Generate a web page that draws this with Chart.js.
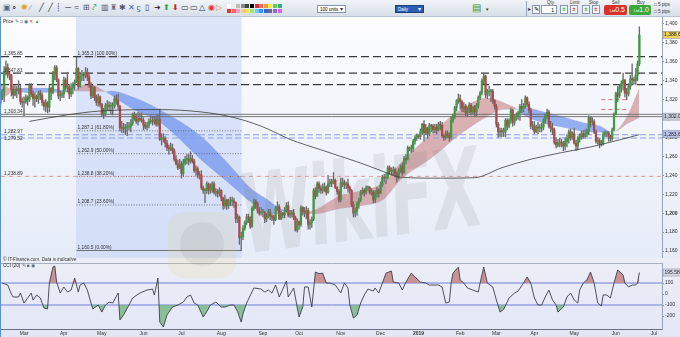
<!DOCTYPE html>
<html>
<head>
<meta charset="utf-8">
<script src="https://cdn.jsdelivr.net/npm/chart.js@4.4.1/dist/chart.umd.min.js"></script>
<style>
body{margin:0;width:680px;height:337px;overflow:hidden;background:#fff;position:relative;font-family:'Liberation Sans',Arial,sans-serif}
#tb{position:absolute;left:0;top:0;width:680px;height:17px;background:linear-gradient(#f1f4f8,#d8dfe9);border-bottom:1px solid #b7c2d2;box-sizing:border-box}
#tb span{position:absolute}
.ico{top:3px;font-size:8px;line-height:9px}
.sel{top:5px;height:8px;background:#fff;border:1px solid #8896ab;font-size:4.5px;line-height:8px;padding-left:2px;box-sizing:border-box}
.lab{top:0px;font-size:4.5px;color:#333}
.btn{top:5px;height:10px;border-radius:2px;color:#fff;font-size:7px;line-height:10px;text-align:right;padding-right:2px;box-sizing:border-box}
.sq{top:5px;width:8px;height:9px;border:1px solid #8a97aa;background:#f4f6f9;box-sizing:border-box;font-size:6px;line-height:7px;text-align:center}
#pw{position:absolute;left:0;top:17px;width:680px;height:241px;background:linear-gradient(#fdfdfe,#f2f5fb 45%,#e6ecf8);border-left:1px solid #5d8fd3;box-sizing:border-box}
#ow{position:absolute;left:0;top:258px;width:680px;height:79px;background:linear-gradient(#eceef7,#e3e7f5);border-left:1px solid #5d8fd3;box-sizing:border-box}
canvas{position:absolute;left:0;top:0}
.txt{position:absolute;font-size:4.6px;color:#333;white-space:nowrap}
#wm{position:absolute;left:238px;top:152px;font:bold 110px 'DejaVu Sans';color:rgba(110,110,110,0.12);transform:scaleX(0.58) rotate(-4deg);transform-origin:0 0;pointer-events:none;letter-spacing:-3px}
#logo{position:absolute;left:168px;top:212px;width:68px;height:66px;border-radius:16px;background:rgba(232,205,120,0.16);pointer-events:none}
#logo div{position:absolute;left:12px;top:10px;width:44px;height:44px;border-radius:50%;background:rgba(120,120,120,0.11)}
</style>
</head>
<body>
<div id="tb"></div>
<div id="pw"><canvas id="priceChart" width="680" height="241"></canvas></div>
<div id="ow"><canvas id="cciChart" width="680" height="79"></canvas></div>
<div class="txt" style="left:3px;top:19px">Price <span style="color:#567">&#9998; &#9633; &#9673;</span> <span style="color:#c33">&#10005;</span> <span style="color:#3a3">&#9650;</span></div>
<div class="txt" style="left:3px;top:257px;font-style:italic">&copy; IT-Finance.com. Data is indicative</div>
<div class="txt" style="left:3px;top:263px">CCI (20) <span style="color:#567">&#9998; &#9632; &#9673;</span></div>
<div id="logo"><div></div></div>
<div id="wm">WikiFX</div>

<script>
// daily candles, 12 Feb 2018 .. 20 Jun 2019 (index 0 = first candle)
const firstOpen = 1316;
const closes = [
  1322,1329,1350,1354,1347,1346,1331,1325,1331,1330,1332,1318,1317,
  1318,1322,1320,1335,1326,1321,1324,1321,1327,1325,1317,1313,1317,1312,1332,1328,1347,1354,1341,1324,1325,1326,
  1341,1333,1333,1326,1332,1336,1339,1353,1334,1345,1347,1346,1349,1344,1336,1324,1333,1322,1317,1323,1315,
  1305,1305,1314,1314,1313,1313,1313,1321,1319,1313,1290,1291,1289,1291,1291,1291,1295,1304,1301,1297,1300,1299,1298,
  1293,1291,1293,1297,1298,1297,1299,1294,1299,1278,1279,1279,1274,1269,1268,1269,1266,1257,1252,1248,1252,
  1242,1253,1257,1257,1255,1258,1255,1245,1247,1241,1240,1227,1224,1224,1231,1224,1225,1231,1222,1223,1221,1224,
  1216,1208,1214,1208,1212,1213,1213,1211,1194,1196,1174,1175,1184,1190,1196,1195,1186,1205,1212,1210,1203,1200,1201,
  1201,1194,1197,1201,1197,1196,1193,1205,1207,1194,1200,1198,1203,1208,1198,1200,1200,1195,1182,1191,
  1188,1206,1202,1200,1203,1188,1190,1194,1224,1218,1231,1226,1224,1227,1227,1222,1231,1233,1232,1235,1227,1223,1214,
  1232,1232,1230,1231,1227,1224,1209,1200,1202,1210,1214,1222,1224,1222,1227,1227,1222,1222,1214,1221,1224,1221,
  1230,1238,1237,1238,1248,1244,1244,1246,1242,1238,1245,1249,1243,1258,1257,1269,1268,1268,1276,1280,1282,
  1281,1286,1294,1285,1290,1284,1293,1292,1288,1291,1288,1294,1293,1282,1280,1284,1282,1280,1298,1303,1312,1319,1321,
  1318,1311,1313,1306,1309,1314,1307,1312,1307,1314,1322,1327,1340,1345,1325,1328,1329,1329,1319,1313,
  1294,1286,1287,1286,1286,1298,1292,1298,1309,1296,1302,1302,1306,1313,1311,1313,1322,1315,1309,1292,1292,
  1286,1291,1290,1290,1291,1298,1303,1307,1292,1290,1288,1275,1272,1274,1275,1272,1271,1276,1279,1286,1280,1284,
  1274,1271,1279,1282,1284,1281,1284,1286,1301,1296,1297,1286,1276,1277,1273,1274,1283,1285,1285,1281,1279,1288,1305,
  1327,1324,1333,1337,1341,1327,1326,1334,1342,1341,1340,1346,1358,1388.6
];
const highs = [
  1326,1331,1355,1361,1358,1350,1347,1335,1335,1334,1340,1335,1322,
  1323,1325,1324,1337,1337,1329,1327,1325,1329,1330,1327,1319,1320,1318,1335,1333,1350,1356,1356,1342,1329,1328,
  1344,1343,1349,1336,1337,1338,1341,1365,1354,1348,1351,1349,1354,1353,1348,1338,1335,1334,1325,1326,1324,
  1316,1311,1316,1319,1318,1317,1317,1324,1325,1326,1314,1297,1295,1294,1296,1296,1299,1306,1307,1305,1307,1306,1306,
  1301,1296,1296,1300,1303,1302,1302,1303,1304,1310,1284,1284,1281,1277,1272,1274,1273,1268,1261,1256,1257,
  1255,1257,1260,1262,1262,1265,1261,1257,1250,1249,1244,1245,1229,1226,1233,1232,1231,1233,1233,1226,1225,1227,
  1225,1217,1219,1215,1215,1217,1217,1216,1212,1199,1197,1180,1187,1192,1199,1199,1196,1207,1215,1214,1212,1206,1206,
  1204,1202,1200,1204,1204,1199,1198,1207,1212,1209,1202,1201,1206,1211,1212,1203,1203,1204,1197,1194,
  1192,1208,1207,1206,1207,1205,1193,1196,1226,1227,1233,1233,1229,1231,1232,1229,1240,1236,1236,1243,1236,1228,1225,
  1237,1237,1235,1233,1236,1229,1225,1212,1206,1212,1216,1224,1227,1226,1229,1229,1228,1226,1224,1224,1227,1226,
  1233,1240,1241,1242,1250,1250,1248,1249,1248,1244,1247,1251,1253,1260,1262,1271,1270,1272,1278,1282,1284,
  1283,1289,1295,1298,1294,1291,1295,1294,1294,1294,1294,1296,1297,1296,1283,1287,1287,1285,1302,1305,1313,1320,1326,
  1325,1319,1317,1315,1312,1317,1316,1313,1314,1316,1324,1329,1342,1347,1346,1331,1334,1331,1331,1320,
  1315,1296,1290,1290,1290,1300,1300,1300,1311,1310,1304,1306,1308,1315,1320,1316,1324,1323,1318,1311,1297,
  1297,1293,1296,1294,1295,1300,1305,1310,1309,1297,1295,1290,1280,1278,1279,1278,1276,1280,1283,1288,1289,1286,
  1290,1277,1281,1284,1287,1287,1288,1289,1303,1302,1301,1299,1288,1280,1279,1277,1286,1287,1286,1286,1283,1290,1306,
  1328,1334,1336,1340,1348,1341,1332,1337,1346,1358,1344,1353,1361,1397
];
const lows = [
  1314,1320,1318,1346,1343,1341,1324,1321,1324,1322,1326,1315,1312,
  1303,1316,1314,1318,1323,1314,1312,1318,1316,1320,1314,1309,1307,1306,1307,1320,1326,1341,1339,1321,1319,1322,
  1322,1330,1328,1321,1323,1326,1330,1338,1331,1333,1340,1340,1343,1340,1333,1321,1322,1319,1314,1313,1312,
  1302,1300,1303,1309,1308,1305,1304,1311,1315,1310,1287,1285,1285,1283,1282,1288,1286,1293,1298,1295,1293,1297,1296,
  1288,1289,1288,1290,1295,1293,1294,1292,1292,1277,1272,1275,1270,1266,1262,1266,1263,1255,1251,1246,1247,
  1237,1239,1251,1252,1251,1253,1253,1243,1240,1237,1236,1225,1221,1211,1221,1220,1221,1222,1220,1218,1217,1218,
  1213,1204,1205,1204,1205,1208,1208,1206,1190,1190,1167,1160,1172,1182,1188,1190,1184,1185,1203,1205,1200,1198,1198,
  1196,1190,1191,1195,1193,1192,1188,1192,1203,1193,1193,1195,1195,1201,1196,1195,1196,1193,1181,1180,
  1183,1186,1198,1196,1194,1183,1183,1185,1192,1215,1218,1222,1221,1221,1223,1219,1221,1228,1228,1231,1226,1220,1212,
  1212,1228,1226,1226,1222,1221,1207,1196,1196,1198,1205,1212,1220,1218,1220,1224,1220,1219,1211,1211,1217,1217,
  1222,1228,1233,1231,1236,1241,1240,1240,1238,1233,1236,1243,1240,1242,1252,1256,1266,1264,1265,1273,1277,
  1279,1278,1283,1276,1283,1279,1282,1286,1285,1285,1284,1287,1288,1280,1277,1278,1280,1276,1278,1296,1300,1308,1316,
  1310,1307,1307,1303,1302,1306,1304,1305,1302,1303,1311,1320,1325,1337,1322,1321,1324,1318,1316,1310,
  1291,1280,1281,1281,1281,1281,1288,1290,1295,1292,1293,1298,1299,1298,1306,1307,1311,1312,1306,1289,1288,
  1284,1285,1284,1286,1286,1288,1295,1300,1290,1286,1283,1273,1269,1270,1270,1270,1266,1267,1270,1274,1277,1278,
  1273,1266,1267,1275,1278,1279,1279,1281,1283,1291,1293,1284,1274,1273,1269,1271,1272,1281,1281,1276,1276,1277,1287,
  1304,1318,1322,1328,1330,1323,1320,1324,1331,1336,1336,1336,1340,1356
];

// month ticks (candle index of first trading day)
const monthStart = [13,35,56,79,100,122,145,165,188,210,231,254,274,295,317,340,361];
const monthLabels = ['Mar','Apr','May','Jun','Jul','Aug','Sep','Oct','Nov','Dec','2019','Feb','Mar','Apr','May','Jun','Jul'];
const priceTicks = [1160,1180,1200,1220,1240,1260,1280,1300,1320,1340,1360,1380,1400];
const cciTicks = [-200,-100,0,100];

// moving-average ribbon and 200 SMA
const ribIdx  = [0,4,7,18,28,40,48,58,61,73,88,111,129,138,148,153,157,166,173,188,197,212,221,238,256,269,278,286,289,302,311,322,332,337,339,346,353];
const ribFast = [1336,1333,1330,1327,1327.5,1329,1337,1328.5,1325,1310,1296,1256,1227,1212,1200,1199,1203,1201,1203,1219,1223,1233,1253,1284,1312,1322,1317,1309.5,1304,1294,1290.5,1286.3,1285.2,1285.5,1286,1302,1332.6];
const ribSlow = [1320,1325,1330,1332.5,1332,1329,1329,1328.5,1329.5,1323,1309.5,1281,1246,1227,1214,1207,1203,1201,1199,1205,1207,1215,1235,1258,1286,1302,1309.5,1309.5,1311.6,1306.3,1302,1295.8,1291.6,1286.3,1286,1294,1301];
const smaIdx = [16,37,55,88,111,127,144,160,177,188,199,213,221,243,262,277,293,310,326,343,353];
const smaVal = [1297,1304,1308,1309.5,1307,1302,1292,1278,1267,1260,1253,1243,1238,1237,1237.5,1248,1257,1264,1270,1278,1283];

// levels
const fibFrom = 42, fibTo = 133;
const fibLevels = [1365.3,1287.1,1262.9,1238.8,1208.7,1160.5];
const fibLabels = ['1,365.3 (100.00%)','1,287.1 (61.80%)','1,262.9 (50.00%)','1,238.8 (38.20%)','1,208.7 (23.60%)','1,160.5 (0.00%)'];
const blackLevels = [1365.6,1348,1335.8];
const greyLevels = [1304.5,1302.06];
const blueLevels = [1282.97,1279.52];
const redLevel = 1238.89;
const shortRedLevels = [1320,1309.5];
const shortRedFrom = 332, shortRedTo = 346;
const leftLevels = [1365.6,1348,1304.5,1282.97,1279.52,1238.89];
const leftLabels = ['1,365.85','1,347.81','1,303.34','1,282.97','1,279.52','1,238.89'];
const axisTags = [[1388.6,'1,388.60','#f1d25a'],[1302.06,'1,302.06','#c6ccd8'],[1283.67,'1,283.67','#b7c2ee']];

// CCI(20)
const cciIdx = [1,4,6,7,10,11,13,15,17,18,20,22,24,26,27,29,30,31,33,35,37,39,41,43,44,46,48,50,51,54,56,58,60,62,65,66,68,71,73,77,81,84,85,87,88,90,92,95,98,101,103,105,107,109,112,114,116,119,122,124,127,129,131,133,134,136,140,144,146,148,150,152,154,156,158,159,162,164,165,167,168,170,172,174,176,178,180,182,185,188,190,192,193,195,197,199,201,203,206,207,209,211,213,216,217,220,222,224,227,229,232,235,237,242,244,246,248,249,250,253,254,256,258,261,264,265,267,269,272,274,276,278,281,284,286,289,291,293,295,297,299,301,303,305,307,308,311,313,315,317,319,320,322,324,326,328,330,332,333,335,337,339,341,344,345,347,349,351,352,353];
const cciVal = [100,82,0,-27,-27,9,-82,-36,9,-55,-9,-36,-127,-136,100,245,255,109,9,64,18,36,145,18,82,100,36,-82,-136,-100,-164,-100,-73,-82,9,-236,-190,-100,-36,9,36,45,-9,145,-255,-300,-190,-118,-100,-73,-27,-9,-82,-100,-209,-160,-100,-73,-118,-118,-100,-100,-160,-255,-180,-82,55,45,18,36,9,82,-27,45,118,-27,55,-127,-209,-118,64,64,-118,200,185,190,100,100,82,10,100,55,-100,-218,-190,-82,-9,45,27,55,9,100,190,209,109,100,36,109,190,155,109,100,82,82,64,-82,-73,100,190,245,127,100,55,36,18,100,245,100,64,-55,-164,-140,-36,9,27,100,155,100,-36,-100,-100,-27,36,-55,-100,-164,-118,-27,9,-55,-82,36,100,127,200,100,-82,-109,-9,-9,-36,100,218,173,100,64,82,82,100,195.58];
const cciLast = 195.58;

const xMin = 0.28, xMax = 365.5;
const FONT = 'Liberation Sans';
Chart.defaults.font.family = FONT;

// ---- toolbar ----
const tb = document.getElementById('tb');
function put(cls, x, html, style) {
  const s = document.createElement('span');
  s.className = cls; s.style.left = x + 'px';
  if (style) s.style.cssText += style;
  s.innerHTML = html; tb.appendChild(s);
}
const icons = ['&#9635;','&#8981;','&#10042;','&#8260;','&#9585;','&#9585;','&#9482;','&#9472;','&#8776;','&#8862;','&#10532;','&#9637;','&#9820;','&#10033;','&#10005;','&#987;','&#9647;','&#10140;','&#11014;','&#11015;','&#9645;','&#9645;','&#9651;'];
const iconCol = ['#667','#334','#e0a020','#889','#334','#334','#334','#334','#556','#556','#3a6','#556','#667','#556','#36c','#36c','#334','#334','#2a2','#c22','#334','#334','#334'];
icons.forEach((c, k) => put('ico', 3 + k * 8.9, c, 'color:' + iconCol[k]));
put('ico', 208, '&#9673;', 'color:#d33');
put('ico', 216, '&#9655;', 'color:#e58a1f');
const pal = ['#fff','#eee','#bbb','#888','#444','#000','#c33','#e66','#e93','#ee4','#6c4','#3a8'];
const pal2 = ['#e33','#f66','#f9c','#fc6','#ffe066','#9e6','#6cf','#39f','#36c','#669','#96c','#c6f'];
pal.forEach((c, k) => put('', 227 + k * 4.6, '', 'top:4px;width:4px;height:4px;background:' + c));
pal2.forEach((c, k) => put('', 227 + k * 4.6, '', 'top:9px;width:4px;height:4px;background:' + c));
put('sel', 317, '100 units', 'width:29px');
put('', 340, '&#9662;', 'top:5px;font-size:6px;color:#334');
put('sel', 395, 'Daily', 'width:29px;background:#2c5eb3;color:#fff;border-color:#1d3f7a');
put('', 418, '&#9662;', 'top:5px;font-size:6px;color:#fff');
put('ico', 472, '&#9636;', 'color:#4a9a3a;font-size:10px');
put('', 486, '&#9662;', 'top:6px;font-size:5px;color:#334');
put('', 526, '', 'top:1px;width:1px;height:15px;background:#9aa6b8');
put('', 528, '&#9656;', 'top:5px;font-size:6px;color:#334');
put('sq', 532, '&#9998;');
put('lab', 547, 'Qty');
put('sel', 541, '1', 'width:16px;text-align:right;padding-right:2px;height:9px;font-size:5px');
put('lab', 570, 'Limit');
put('sq', 560, '<b style="color:#2a2">&#177;</b>');
put('sq', 570, '<b style="color:#c22">&#177;</b>');
put('lab', 589, 'Stop');
put('sq', 582, '<b style="color:#2a2">&#177;</b>');
put('sq', 592, '<b style="color:#c22">&#177;</b>');
put('lab', 612, 'Sell');
put('btn', 604, '<small style="font-size:4px">Ltd</small>0.5', 'width:23px;background:#d9312b');
put('lab', 637, 'Buy');
put('btn', 629, '<small style="font-size:4px">Ltd</small>1.0', 'width:22px;background:#3aa83a');
put('', 654, '&#9633; 5 pips', 'top:2px;font-size:4.5px;color:#333');
put('', 654, '&#9633; 5 pips', 'top:9px;font-size:4.5px;color:#333');

// ---- price chart ----
const opens = closes.map((c, i) => i === 0 ? firstOpen : closes[i - 1]);
const up = i => closes[i] >= opens[i];

function hline(y, x0, x1, color, dash, width, order) {
  return {type: 'line', data: [{x: x0, y: y}, {x: x1, y: y}], borderColor: color,
    borderDash: dash, borderWidth: width, pointRadius: 0, fill: false, order: order};
}

const priceSets = [
  {type: 'line', data: [{x: fibFrom - 0.3, y: 1407.4}, {x: fibTo + 0.3, y: 1407.4}],
    fill: 'start', backgroundColor: 'rgba(200,214,246,0.6)', borderWidth: 0, pointRadius: 0, order: 100},
  {type: 'line', data: ribIdx.map((x, k) => ({x: x, y: ribFast[k]})), borderWidth: 0, pointRadius: 0,
    cubicInterpolationMode: 'monotone', order: 60,
    fill: {target: '+1', above: 'rgba(196,118,118,0.55)', below: 'rgba(92,132,236,0.62)'}},
  {type: 'line', data: ribIdx.map((x, k) => ({x: x, y: ribSlow[k]})), borderWidth: 0, pointRadius: 0,
    cubicInterpolationMode: 'monotone', fill: false, order: 60},
  ...fibLevels.map((v, k) => hline(v, fibFrom, fibTo, '#555', k === fibLevels.length - 1 ? [] : [1, 1.6], 0.8, 40)),
  ...blackLevels.map(v => hline(v, xMin, xMax, '#3a3a3a', [8, 4], 1.2, 30)),
  ...greyLevels.map(v => hline(v, xMin, xMax, '#6a6a6a', [], 0.9, 30)),
  ...blueLevels.map(v => hline(v, xMin, xMax, '#8d9be6', [6, 3], 1.1, 30)),
  hline(redLevel, xMin, xMax, '#ec9a9a', [4, 4], 1, 30),
  ...shortRedLevels.map(v => hline(v, shortRedFrom, shortRedTo, '#d97070', [4, 3], 1, 30)),
  {type: 'bar', data: closes.map((c, i) => ({x: i, y: [Math.min(lows[i], opens[i], c), Math.max(highs[i], opens[i], c)]})),
    backgroundColor: '#6b6b6b', grouped: false, maxBarThickness: 0.7, categoryPercentage: 1, barPercentage: 1, order: 11},
  {type: 'bar', data: closes.map((c, i) => ({x: i, y: [opens[i], c]})),
    backgroundColor: ctx => up(ctx.dataIndex) ? '#3f9c41' : '#ad4a48',
    grouped: false, maxBarThickness: 1.6, categoryPercentage: 1, barPercentage: 1, minBarLength: 1, order: 10},
  {type: 'line', data: smaIdx.map((x, k) => ({x: x, y: smaVal[k]})), borderColor: '#3b3b3b', borderWidth: 0.8,
    pointRadius: 0, cubicInterpolationMode: 'monotone', fill: false, order: 5}
];

const priceText = {
  id: 'priceText',
  afterDatasetsDraw(chart) {
    const {ctx, scales: {x, y}} = chart;
    ctx.save();
    ctx.font = '4.8px "' + FONT + '"';
    ctx.fillStyle = '#333';
    ctx.textBaseline = 'bottom';
    leftLabels.forEach((t, k) => {
      let py = y.getPixelForValue(leftLevels[k]) - 0.4;
      if (k === 4) py += 4;
      ctx.fillText(t, 3, py);
    });
    fibLabels.forEach((t, k) => ctx.fillText(t, x.getPixelForValue(fibFrom) + 1, y.getPixelForValue(fibLevels[k]) - 0.6));
    ctx.restore();
  },
  afterDraw(chart) {
    const {ctx, scales: {y}, chartArea} = chart;
    ctx.save();
    ctx.font = '5px "' + FONT + '"';
    ctx.textBaseline = 'middle';
    axisTags.forEach(([v, t, bg]) => {
      const py = y.getPixelForValue(v);
      ctx.fillStyle = bg;
      ctx.fillRect(chartArea.right + 1, py - 3.5, 18, 7);
      ctx.strokeStyle = '#7d8698';
      ctx.lineWidth = 0.5;
      ctx.strokeRect(chartArea.right + 1, py - 3.5, 18, 7);
      ctx.fillStyle = '#222';
      ctx.fillText(t, chartArea.right + 2, py + 0.3);
    });
    ctx.restore();
  }
};

new Chart(document.getElementById('priceChart'), {
  type: 'bar',
  data: {datasets: priceSets},
  options: {
    responsive: false, animation: false, events: [],
    layout: {padding: 0},
    plugins: {legend: {display: false}, tooltip: {enabled: false}},
    scales: {
      x: {type: 'linear', min: xMin, max: xMax, offset: false, display: false},
      y: {
        position: 'right', min: 1152.6, max: 1407.4, beginAtZero: false,
        grid: {display: true, drawOnChartArea: false, drawTicks: true, tickLength: 2, color: '#8c96aa'},
        border: {display: true, color: '#98a3b8'},
        ticks: {padding: 1, color: '#333',
          font: c => ({family: FONT, size: 5, weight: c.tick && c.tick.value === 1200 ? 'bold' : 'normal'}),
          callback: v => v.toLocaleString('en-US')},
        afterBuildTicks: s => { s.ticks = priceTicks.map(v => ({value: v})); },
        afterFit: s => { s.width = 19; s.paddingTop = 0; s.paddingBottom = 0; }
      }
    }
  },
  plugins: [priceText]
});

// ---- CCI chart ----
const cciPts = cciIdx.map((x, k) => ({x: x, y: cciVal[k]}));
const cciText = {
  id: 'cciText',
  beforeDatasetsDraw(chart) {
    const {ctx, chartArea} = chart;
    ctx.save();
    ctx.strokeStyle = '#a9b0c2';
    ctx.lineWidth = 1;
    ctx.beginPath();
    ctx.moveTo(chartArea.left, chartArea.top + 0.5);
    ctx.lineTo(chartArea.right, chartArea.top + 0.5);
    ctx.stroke();
    ctx.restore();
  },
  afterDraw(chart) {
    const {ctx, scales: {y}, chartArea} = chart;
    const py = y.getPixelForValue(cciLast);
    ctx.save();
    ctx.font = '5px "' + FONT + '"';
    ctx.textBaseline = 'middle';
    ctx.fillStyle = '#d6daea';
    ctx.fillRect(chartArea.right + 1, py - 3.5, 18, 7);
    ctx.strokeStyle = '#7d8698';
    ctx.lineWidth = 0.5;
    ctx.strokeRect(chartArea.right + 1, py - 3.5, 18, 7);
    ctx.fillStyle = '#222';
    ctx.fillText(cciLast.toFixed(2), chartArea.right + 2.5, py + 0.3);
    ctx.restore();
  }
};

new Chart(document.getElementById('cciChart'), {
  type: 'line',
  data: {datasets: [
    hline(100, xMin, xMax, '#6f7fd8', [], 1, 20),
    hline(-100, xMin, xMax, '#6f7fd8', [], 1, 20),
    {data: cciPts, borderWidth: 0, pointRadius: 0, order: 15,
      fill: {target: {value: -100}, above: 'rgba(0,0,0,0)', below: 'rgba(120,185,135,0.85)'}},
    {data: cciPts, borderColor: '#3c3f48', borderWidth: 0.9, pointRadius: 0, order: 10,
      fill: {target: {value: 100}, above: 'rgba(196,130,130,0.85)', below: 'rgba(0,0,0,0)'}}
  ]},
  options: {
    responsive: false, animation: false, events: [],
    layout: {padding: {top: 5}},
    plugins: {legend: {display: false}, tooltip: {enabled: false}},
    scales: {
      x: {
        type: 'linear', min: xMin, max: xMax, offset: false,
        grid: {display: false, drawTicks: false},
        border: {display: true, color: '#6b7080'},
        ticks: {autoSkip: false, maxRotation: 0, padding: 1.5, color: '#333',
          font: c => ({family: FONT, size: 5, weight: c.tick && c.tick.value === 231 ? 'bold' : 'normal'}),
          callback: v => monthLabels[monthStart.indexOf(v)]},
        afterBuildTicks: s => { s.ticks = monthStart.map(v => ({value: v})); },
        afterFit: s => { s.height = 8; s.paddingLeft = 0; s.paddingRight = 0; }
      },
      y: {
        position: 'right', min: -318, max: 282,
        grid: {display: true, drawOnChartArea: false, drawTicks: true, tickLength: 2, color: '#8c96aa'},
        border: {display: true, color: '#98a3b8'},
        ticks: {padding: 1, color: '#333', font: {family: FONT, size: 5}, callback: v => String(v)},
        afterBuildTicks: s => { s.ticks = cciTicks.map(v => ({value: v})); },
        afterFit: s => { s.width = 19; s.paddingTop = 0; s.paddingBottom = 0; }
      }
    }
  },
  plugins: [cciText]
});
</script>
</body>
</html>
